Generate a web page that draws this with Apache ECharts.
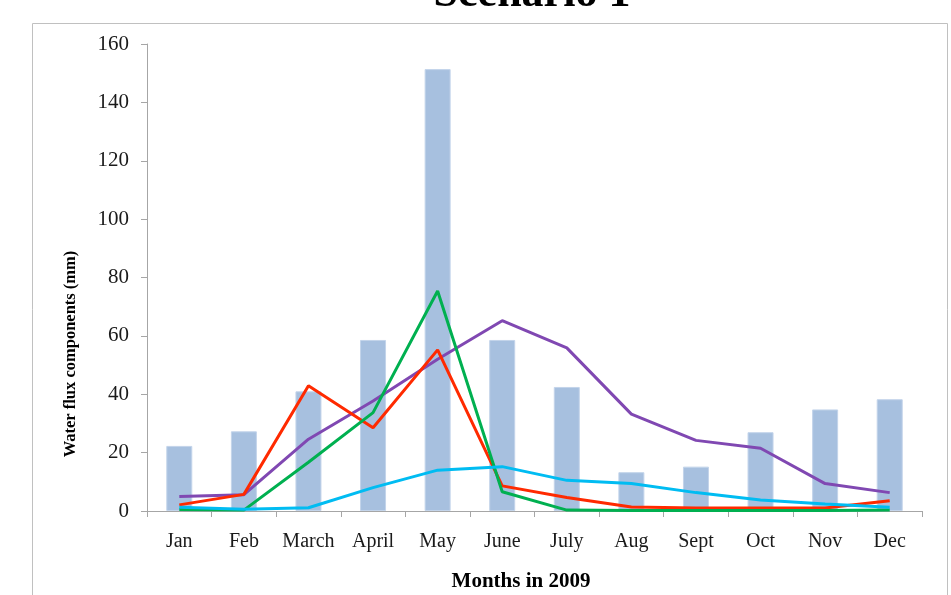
<!DOCTYPE html>
<html>
<head>
<meta charset="utf-8">
<script src="https://cdn.jsdelivr.net/npm/echarts@6/dist/echarts.min.js"></script>
<style>
  html, body { margin: 0; padding: 0; background: #ffffff; }
  #chart { width: 951px; height: 595px; }
</style>
</head>
<body>
<div id="chart"></div>
<script>
// Monthly water flux components, 2009 (mm)
const months = ['Jan', 'Feb', 'March', 'April', 'May', 'June', 'July', 'Aug', 'Sept', 'Oct', 'Nov', 'Dec'];
const precipitation = [22.3, 27.3, 41.0, 58.6, 151.4, 58.6, 42.5, 13.3, 15.2, 27.0, 34.8, 38.3];
const evapotranspiration = [5.0, 5.6, 24.6, 37.7, 52.0, 65.2, 55.9, 33.2, 24.2, 21.5, 9.4, 6.3];
const percolation = [2.1, 5.7, 42.9, 28.5, 55.2, 8.6, 4.6, 1.4, 1.0, 1.0, 1.0, 3.5];
const surfaceRunoff = [0.5, 0.3, 16.7, 33.7, 75.4, 6.6, 0.3, 0.2, 0.2, 0.2, 0.2, 0.3];
const lateralFlow = [1.3, 0.6, 1.1, 8.0, 14.0, 15.2, 10.5, 9.4, 6.3, 3.8, 2.4, 1.3];
const yTicks = { min: 0, max: 160, step: 20 };

const serif = '"Liberation Serif", "DejaVu Serif", serif';
const axisGray = '#a6a6a6';

function lineSeries(name, data, color) {
  return {
    name: name,
    type: 'line',
    data: data,
    symbol: 'none',
    lineStyle: { color: color, width: 3 },
    itemStyle: { color: color },
    z: 3
  };
}

const chart = echarts.init(document.getElementById('chart'), null, { renderer: 'canvas' });
chart.setOption({
  backgroundColor: '#ffffff',
  animation: false,
  grid: { left: 147, right: 29, top: 44, bottom: 84, containLabel: false },
  xAxis: {
    type: 'category',
    data: months,
    boundaryGap: true,
    axisLine: { lineStyle: { color: axisGray, width: 1 } },
    axisTick: { show: true, length: 6, lineStyle: { color: axisGray }, alignWithLabel: false },
    axisLabel: { color: '#1a1a1a', fontFamily: serif, fontSize: 20, margin: 21, interval: 0 }
  },
  yAxis: {
    type: 'value',
    min: yTicks.min,
    max: yTicks.max,
    interval: yTicks.step,
    splitLine: { show: false },
    axisLine: { show: true, lineStyle: { color: axisGray, width: 1 } },
    axisTick: { show: true, length: 6, lineStyle: { color: axisGray } },
    axisLabel: { color: '#1a1a1a', fontFamily: serif, fontSize: 21, margin: 18, padding: [4, 0, 0, 0] }
  },
  series: [
    {
      name: 'Precipitation',
      type: 'bar',
      data: precipitation,
      barWidth: 26,
      itemStyle: { color: '#a7c0df', borderColor: '#c3d4ea', borderWidth: 1 },
      z: 2
    },
    lineSeries('Evapotranspiration', evapotranspiration, '#8048b2'),
    lineSeries('Percolation', percolation, '#ff2a00'),
    lineSeries('Surface runoff', surfaceRunoff, '#00b050'),
    lineSeries('Lateral flow', lateralFlow, '#00bcf2')
  ],
  graphic: [
    {
      type: 'rect',
      shape: { x: 32.5, y: 23.5, width: 915, height: 600 },
      style: { fill: 'none', stroke: '#c0c0c0', lineWidth: 1 },
      z: -1,
      silent: true
    },
    {
      type: 'text',
      x: 532,
      y: -5,
      style: {
        text: 'Scenario 1',
        font: 'bold 44px ' + serif,
        fill: '#000000',
        align: 'center',
        verticalAlign: 'middle'
      }
    },
    {
      type: 'text',
      x: 521,
      y: 582,
      style: {
        text: 'Months in 2009',
        font: 'bold 21px ' + serif,
        fill: '#000000',
        align: 'center',
        verticalAlign: 'middle'
      }
    },
    {
      type: 'text',
      x: 71,
      y: 354,
      rotation: Math.PI / 2,
      style: {
        text: 'Water flux components (mm)',
        font: 'bold 16.5px ' + serif,
        fill: '#000000',
        align: 'center',
        verticalAlign: 'middle'
      }
    }
  ]
});
</script>
</body>
</html>
